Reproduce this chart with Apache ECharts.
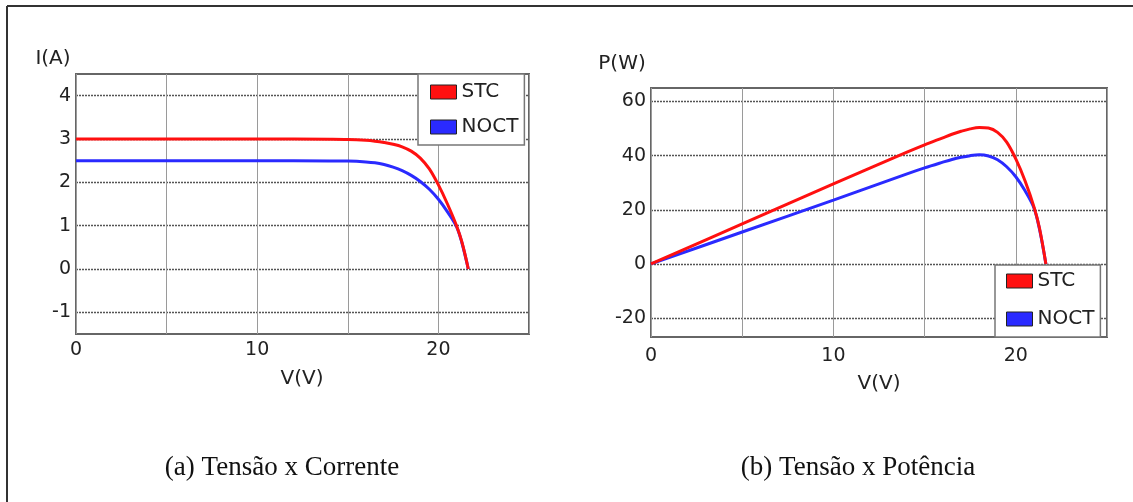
<!DOCTYPE html>
<html>
<head>
<meta charset="utf-8">
<script src="https://cdn.jsdelivr.net/npm/echarts@6/dist/echarts.min.js"></script>
<style>
html,body{margin:0;padding:0;background:#fff;}
#chart{width:1133px;height:502px;}
</style>
</head>
<body>
<div id="chart"></div>
<script>
// ---- data ----
const seriesNames = ['STC', 'NOCT'];
const voltage     = [0, 5, 10, 14, 15, 16, 16.5, 17, 17.5, 18, 18.5, 19, 19.5, 20, 20.5, 21, 21.3, 21.65];
const currentSTC  = [3.00, 3.00, 3.00, 2.995, 2.99, 2.97, 2.95, 2.92, 2.88, 2.82, 2.72, 2.56, 2.31, 1.94, 1.50, 1.00, 0.62, 0];
const currentNOCT = [2.50, 2.50, 2.50, 2.495, 2.49, 2.47, 2.45, 2.41, 2.35, 2.27, 2.16, 2.02, 1.84, 1.61, 1.32, 0.98, 0.60, 0];
const powerSTC    = [0, 14.8, 29.6, 41.2, 44.0, 46.6, 47.9, 49.0, 49.9, 50.4, 50.2, 48.6, 45.0, 38.8, 30.8, 21.0, 13.2, 0];
const powerNOCT   = [0, 11.8, 23.6, 33.2, 35.5, 37.6, 38.6, 39.4, 40.0, 40.3, 39.9, 38.5, 35.9, 32.2, 27.1, 20.6, 12.8, 0];
const xTicks      = [0, 10, 20];
const currentTicks = [-1, 0, 1, 2, 3, 4];
const powerTicks   = [-20, 0, 20, 40, 60];
const captions    = ['(a) Tensão x Corrente', '(b) Tensão x Potência'];
const axisNames   = { current: 'I(A)', power: 'P(W)', voltage: 'V(V)' };

const pairs = (xs, ys) => xs.map((x, i) => [x, ys[i]]);

const FONT = 'DejaVu Sans';
const RED = '#ff1010';
const BLUE = '#2a2aff';

function xAxisCfg(gridIndex, margin) {
  return {
    type: 'value', gridIndex, min: 0, max: 25, interval: 5,
    axisLine: { show: false }, axisTick: { show: false },
    axisLabel: {
      margin, fontFamily: FONT, fontSize: 19, color: '#222',
      formatter: v => (xTicks.includes(v) ? String(v) : '')
    },
    splitLine: { show: true, lineStyle: { color: '#9a9a9a', width: 1, type: 'solid' } }
  };
}
function yAxisCfg(gridIndex, min, max, ticks, margin) {
  return {
    type: 'value', gridIndex, min, max,
    axisLine: { show: false },
    axisTick: { show: false, customValues: ticks },
    axisLabel: { margin, fontFamily: FONT, fontSize: 19, color: '#222', customValues: ticks },
    splitLine: { show: true, lineStyle: { color: '#555', width: 1.3, type: [2, 1] } }
  };
}
function legendCfg(left, top, padding, itemGap, width) {
  return {
    left, top, orient: 'vertical', data: seriesNames, selectedMode: false,
    icon: 'rect', itemWidth: 26, itemHeight: 14, itemGap,
    padding, backgroundColor: '#fff', borderColor: '#777', borderWidth: 1.5,
    itemStyle: { borderColor: '#222', borderWidth: 1 },
    textStyle: { fontFamily: FONT, fontSize: 20, color: '#222', width, padding: [0,0,0,0] }
  };
}
function lineSeries(name, xi, data, color, z) {
  return {
    name, type: 'line', xAxisIndex: xi, yAxisIndex: xi, data,
    showSymbol: false, smooth: 0.35, z,
    lineStyle: { color, width: 3 }, itemStyle: { color }
  };
}

const chart = echarts.init(document.getElementById('chart'), null, { renderer: 'canvas' });
chart.setOption({
  backgroundColor: '#fff',
  animation: false,
  grid: [
    { left: 76, top: 74, width: 453, height: 260, show: true, borderColor: '#666', borderWidth: 2, backgroundColor: '#fff' },
    { left: 651, top: 88, width: 456, height: 249, show: true, borderColor: '#666', borderWidth: 2, backgroundColor: '#fff' }
  ],
  xAxis: [xAxisCfg(0, 7), xAxisCfg(1, 10)],
  yAxis: [yAxisCfg(0, -1.5, 4.5, currentTicks, 5), yAxisCfg(1, -27, 65, powerTicks, 5)],
  legend: [
    legendCfg(418, 74, [8, 6, 8, 12], 15, 62),
    legendCfg(995, 265, [6, 6, 8, 11], 18, 64)
  ],
  series: [
    lineSeries('NOCT', 0, pairs(voltage, currentNOCT), BLUE, 2),
    lineSeries('STC', 0, pairs(voltage, currentSTC), RED, 3),
    lineSeries('NOCT', 1, pairs(voltage, powerNOCT), BLUE, 2),
    lineSeries('STC', 1, pairs(voltage, powerSTC), RED, 3)
  ],
  graphic: [
    { type: 'line', shape: { x1: 7, y1: 6, x2: 1133, y2: 6 }, style: { stroke: '#333', lineWidth: 2 } },
    { type: 'line', shape: { x1: 7, y1: 6, x2: 7, y2: 502 }, style: { stroke: '#333', lineWidth: 2 } },
    { type: 'text', x: 53, y: 59, style: { text: axisNames.current, font: '20px "DejaVu Sans"', fill: '#222', align: 'center', verticalAlign: 'middle' } },
    { type: 'text', x: 622, y: 64, style: { text: axisNames.power, font: '20px "DejaVu Sans"', fill: '#222', align: 'center', verticalAlign: 'middle' } },
    { type: 'text', x: 302, y: 379, style: { text: axisNames.voltage, font: '20px "DejaVu Sans"', fill: '#222', align: 'center', verticalAlign: 'middle' } },
    { type: 'text', x: 879, y: 384, style: { text: axisNames.voltage, font: '20px "DejaVu Sans"', fill: '#222', align: 'center', verticalAlign: 'middle' } },
    { type: 'text', x: 282, y: 468, style: { text: captions[0], font: '27px "Liberation Serif"', fill: '#111', align: 'center', verticalAlign: 'middle' } },
    { type: 'text', x: 858, y: 468, style: { text: captions[1], font: '27px "Liberation Serif"', fill: '#111', align: 'center', verticalAlign: 'middle' } }
  ]
});
</script>
</body>
</html>
